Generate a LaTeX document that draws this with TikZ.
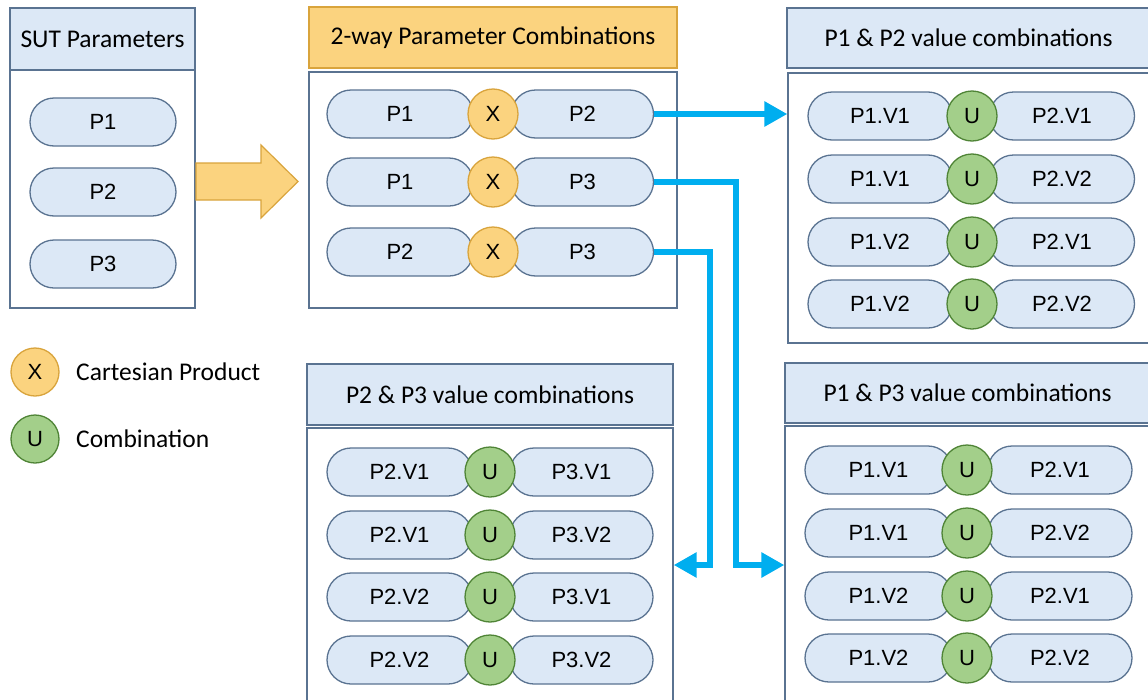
\documentclass[tikz,border=0pt]{standalone}
\usepackage{fontspec}
\setmainfont{Carlito}
\newfontfamily\arialf{Liberation Sans}
\usetikzlibrary{shapes.misc,arrows.meta}
\definecolor{pillf}{HTML}{DCE8F6}
\definecolor{pillb}{HTML}{5A7391}
\definecolor{titlef}{HTML}{DCE8F6}
\definecolor{titleb}{HTML}{5A7391}
\definecolor{bodyb}{HTML}{5A7391}
\definecolor{orf}{HTML}{FBD37F}
\definecolor{orb}{HTML}{D9A43C}
\definecolor{grf}{HTML}{A3CF8A}
\definecolor{grb}{HTML}{4F8436}
\definecolor{conn}{HTML}{00AEEF}
\tikzset{
  pill/.style={rounded rectangle, draw=pillb, fill=pillf, line width=1.3pt,
    minimum width=146pt, minimum height=48pt, inner sep=0pt,
    font=\arialf\fontsize{22}{25}\selectfont},
  xop/.style={circle, draw=orb, fill=orf, line width=1.3pt, minimum size=50pt,
    inner sep=0pt, font=\arialf\fontsize{22}{25}\selectfont},
  uop/.style={circle, draw=grb, fill=grf, line width=1.3pt, minimum size=50pt,
    inner sep=0pt, font=\arialf\fontsize{22}{25}\selectfont},
  titlebox/.style={draw=titleb, fill=titlef, line width=1.3pt, inner sep=0pt,
    font=\fontsize{25.5}{29}\selectfont},
  bodybox/.style={draw=bodyb, fill=white, line width=1.3pt, inner sep=0pt},
  legtext/.style={anchor=west, inner sep=0pt, font=\fontsize{25.5}{29}\selectfont},
  connector/.style={draw=conn, line width=6.5pt, line join=miter,
    -{Triangle[length=23pt,width=24pt]}},
}
\begin{document}
\begin{tikzpicture}[x=1pt,y=-1pt]
\useasboundingbox (0,0) rectangle (1148,699);
\clip (0,0) rectangle (1148,699);
\fill[white] (0,0) rectangle (1148,699);

% SUT parameters
\node[bodybox, minimum width=185pt, minimum height=238pt] (sutb) at (102.5,189) {};
\node[titlebox, minimum width=185pt, minimum height=62pt] (sutt) at (102.5,39) {SUT Parameters};
\node[pill] (s1) at (103,122) {P1};
\node[pill] (s2) at (103,192) {P2};
\node[pill] (s3) at (103,264) {P3};

% big orange arrow
\draw[draw=orb, fill=orf, line width=1.2pt, line join=miter]
  (196,163) -- (261,163) -- (261,145) -- (298,181.5) -- (261,218) -- (261,200) -- (196,200) -- cycle;

% 2-way parameter combinations
\node[bodybox, minimum width=368pt, minimum height=236pt] (twb) at (493,190) {};
\node[draw=orb, fill=orf, line width=1.3pt, inner sep=0pt, font=\fontsize{25.5}{29}\selectfont,
  minimum width=368pt, minimum height=61pt] (twt) at (493,37.5) {2-way Parameter Combinations};
\foreach \i/\y/\a/\b in {1/114/P1/P2, 2/182/P1/P3, 3/252/P2/P3}{
  \node[pill] (twa\i) at (400,\y) {\a};
  \node[pill, minimum width=142pt] (twc\i) at (582.5,\y) {\b};
  \node[xop] (twx\i) at (493,\y) {X};
}

% P1 & P2 value combinations (top right)
\node[bodybox, minimum width=362pt, minimum height=270pt] (trb) at (969,208) {};
\node[titlebox, minimum width=363pt, minimum height=60pt] (trt) at (968.5,38) {P1 \& P2 value combinations};
\foreach \i/\y/\a/\b in {1/116/P1.V1/P2.V1, 2/179/P1.V1/P2.V2, 3/242/P1.V2/P2.V1, 4/304/P1.V2/P2.V2}{
  \node[pill, minimum width=144pt] (tra\i) at (880,\y) {\a};
  \node[pill, minimum width=145pt] (trc\i) at (1062,\y) {\b};
  \node[uop] (tru\i) at (972,\y) {U};
}

% P2 & P3 value combinations (bottom left)
\node[bodybox, minimum width=366pt, minimum height=290pt] (blb) at (490,573) {};
\node[titlebox, minimum width=366pt, minimum height=61pt] (blt) at (490,394.5) {P2 \& P3 value combinations};
\foreach \i/\y/\a/\b in {1/472/P2.V1/P3.V1, 2/535/P2.V1/P3.V2, 3/597/P2.V2/P3.V1, 4/660/P2.V2/P3.V2}{
  \node[pill, minimum width=145pt] (bla\i) at (399.5,\y) {\a};
  \node[pill, minimum width=143pt] (blc\i) at (581.5,\y) {\b};
  \node[uop] (blu\i) at (490,\y) {U};
}

% P1 & P3 value combinations (bottom right)
\node[bodybox, minimum width=365pt, minimum height=290pt] (brb) at (967.5,571) {};
\node[titlebox, minimum width=365pt, minimum height=60pt] (brt) at (967.5,393) {P1 \& P3 value combinations};
\foreach \i/\y/\a/\b in {1/470/P1.V1/P2.V1, 2/533/P1.V1/P2.V2, 3/596/P1.V2/P2.V1, 4/658/P1.V2/P2.V2}{
  \node[pill, minimum width=147pt] (bra\i) at (878.5,\y) {\a};
  \node[pill, minimum width=144pt] (brc\i) at (1060,\y) {\b};
  \node[uop] (bru\i) at (967,\y) {U};
}

% legend
\node[xop, minimum size=48pt] (lx) at (35,372) {X};
\node[legtext] (lxt) at (76,372) {Cartesian Product};
\node[uop, minimum size=48pt] (lu) at (35,439) {U};
\node[legtext] (lut) at (76,439) {Combination};

% connectors
\coordinate (j2) at (736,565);
\coordinate (j3) at (710,565);
\draw[connector] (twc1.east) -- (trb.west |- twc1.east);
\draw[connector] (twc2.east) -| (j2) -- (brb.west |- j2);
\draw[connector] (twc3.east) -| (j3) -- (blb.east |- j3);
\end{tikzpicture}
\end{document}
